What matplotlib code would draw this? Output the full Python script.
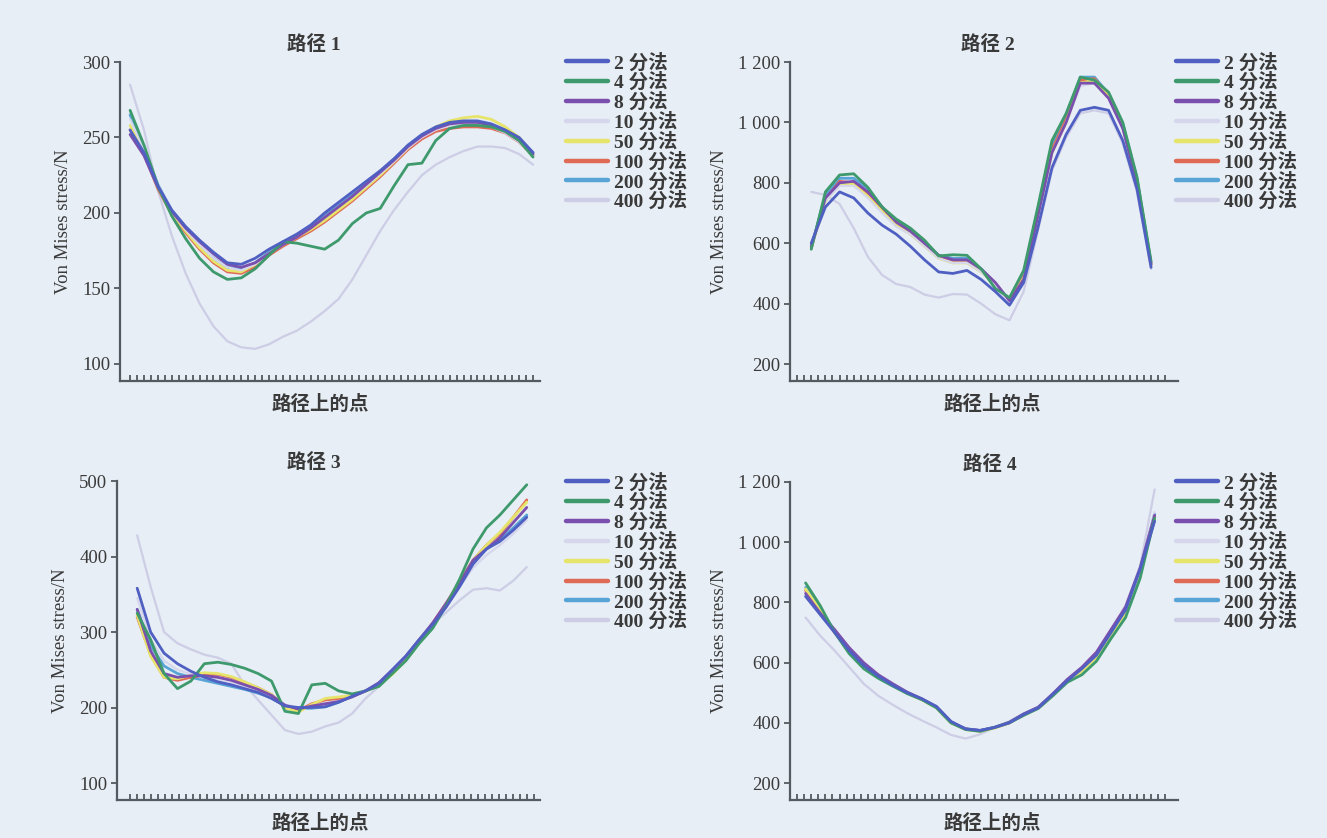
import numpy as np
import matplotlib
matplotlib.use("Agg")
import matplotlib.pyplot as plt
from matplotlib.ticker import FixedLocator, FuncFormatter

# ---- legend labels and colours -------------------------------------------
methods = ["2 分法", "4 分法", "8 分法", "10 分法", "50 分法", "100 分法", "200 分法", "400 分法"]
colors = ["#4f5fc2", "#3e9a6c", "#7b4fae", "#d6d6ec", "#e6e46a", "#df6a55", "#58a4d6", "#cdcde6"]

titles = ["路径 1", "路径 2", "路径 3", "路径 4"]
xlabel = "路径上的点"
ylabel = "Von Mises stress/N"

# ---- path 1 (30 points along the path) -----------------------------------
p1_n2 = [255, 240, 218, 202, 191, 182, 174, 167, 166, 170, 176, 181, 186, 192, 200,
         207, 214, 221, 228, 236, 245, 252, 257, 260, 261, 261, 259, 255, 250, 240]
p1_n4 = [268, 245, 218, 198, 183, 170, 161, 156, 157, 163, 172, 181, 180, 178, 176,
         182, 193, 200, 203, 218, 232, 233, 248, 256, 258, 258, 257, 254, 248, 237]
p1_n8 = [252, 238, 217, 201, 190, 181, 173, 166, 164, 167, 173, 179, 184, 190, 197,
         204, 211, 219, 227, 235, 244, 251, 256, 259, 260, 260, 258, 254, 248, 239]
p1_n10 = [262, 242, 219, 201, 189, 179, 170, 164, 162, 166, 173, 179, 184, 190, 197,
          204, 211, 218, 226, 234, 243, 250, 255, 258, 259, 259, 257, 253, 247, 238]
p1_n50 = [258, 240, 217, 200, 188, 177, 168, 162, 161, 166, 173, 179, 184, 189, 195,
          202, 209, 217, 225, 234, 243, 251, 257, 261, 263, 264, 262, 257, 250, 239]
p1_n100 = [255, 239, 216, 199, 187, 176, 167, 161, 160, 164, 172, 178, 183, 188, 194,
           201, 208, 216, 224, 233, 242, 249, 254, 256, 257, 257, 256, 253, 247, 238]
p1_n200 = [265, 243, 219, 201, 189, 178, 170, 164, 163, 167, 174, 180, 185, 191, 198,
           205, 212, 219, 227, 235, 244, 251, 256, 259, 260, 260, 258, 255, 249, 240]
p1_n400 = [285, 255, 215, 185, 160, 140, 125, 115, 111, 110, 113, 118, 122, 128, 135,
           143, 156, 172, 188, 202, 214, 225, 232, 237, 241, 244, 244, 243, 239, 232]

# ---- path 2 (25 points) ---------------------------------------------------
p2_n2 = [600, 720, 770, 750, 700, 660, 630, 590, 545, 505, 500, 510, 480, 440, 395,
         470, 650, 850, 960, 1040, 1050, 1040, 940, 780, 520]
p2_n4 = [580, 770, 826, 830, 785, 720, 680, 650, 610, 558, 562, 560, 515, 450, 420,
         510, 720, 940, 1030, 1150, 1140, 1100, 1000, 820, 540]
p2_n8 = [590, 750, 800, 805, 770, 720, 670, 640, 600, 560, 545, 545, 515, 470, 410,
         480, 690, 900, 1000, 1130, 1130, 1080, 980, 800, 530]
p2_n10 = [600, 740, 790, 790, 750, 700, 655, 630, 590, 550, 535, 535, 505, 460, 400,
          480, 690, 900, 1000, 1120, 1130, 1080, 980, 800, 530]
p2_n50 = [590, 740, 795, 795, 755, 705, 660, 630, 590, 550, 535, 535, 505, 465, 405,
          485, 690, 900, 1000, 1130, 1140, 1085, 985, 805, 530]
p2_n100 = [585, 745, 805, 800, 765, 715, 665, 640, 600, 555, 540, 540, 510, 465, 405,
           490, 700, 910, 1010, 1140, 1145, 1090, 990, 810, 530]
p2_n200 = [585, 760, 815, 815, 780, 720, 670, 645, 605, 560, 550, 550, 515, 465, 410,
           500, 710, 925, 1020, 1150, 1150, 1095, 995, 815, 535]
p2_n400 = [770, 760, 730, 650, 555, 495, 465, 455, 430, 420, 432, 430, 400, 365, 345,
           440, 640, 840, 950, 1030, 1040, 1030, 930, 770, 515]

# ---- path 3 (30 points) ---------------------------------------------------
p3_n2 = [358, 300, 272, 258, 248, 240, 234, 230, 225, 220, 212, 202, 200, 200, 201,
         207, 215, 222, 232, 250, 268, 290, 310, 333, 360, 390, 410, 420, 435, 452]
p3_n4 = [325, 290, 245, 225, 235, 258, 260, 257, 252, 245, 235, 195, 192, 230, 232,
         222, 218, 222, 228, 245, 262, 285, 305, 335, 370, 410, 438, 455, 475, 495]
p3_n8 = [330, 275, 245, 240, 242, 242, 240, 236, 230, 224, 216, 203, 198, 202, 205,
         208, 214, 222, 233, 250, 268, 290, 312, 338, 365, 395, 410, 425, 445, 465]
p3_n10 = [345, 290, 262, 250, 244, 240, 236, 232, 227, 221, 214, 204, 200, 200, 202,
          208, 215, 223, 233, 250, 269, 290, 311, 335, 360, 385, 402, 415, 430, 448]
p3_n50 = [322, 268, 240, 238, 243, 246, 245, 241, 234, 226, 217, 200, 194, 204, 212,
          214, 216, 222, 230, 244, 263, 286, 310, 336, 365, 395, 415, 432, 452, 472]
p3_n100 = [320, 270, 240, 236, 240, 243, 244, 240, 233, 226, 217, 200, 196, 205, 210,
           212, 215, 222, 230, 246, 265, 288, 312, 338, 367, 395, 415, 430, 452, 475]
p3_n200 = [330, 282, 255, 245, 240, 236, 232, 228, 224, 219, 213, 203, 199, 199, 201,
           207, 215, 222, 232, 249, 268, 290, 311, 336, 362, 392, 410, 422, 438, 455]
p3_n400 = [428, 360, 300, 285, 277, 270, 266, 258, 230, 210, 190, 170, 165, 168, 175,
           180, 192, 212, 228, 245, 268, 290, 310, 326, 342, 356, 358, 355, 368, 386]

# ---- path 4 (25 points) ---------------------------------------------------
p4_n2 = [820, 760, 700, 640, 590, 555, 525, 500, 480, 455, 405, 380, 375, 385, 400,
         428, 450, 495, 540, 580, 625, 700, 775, 910, 1070]
p4_n4 = [865, 790, 700, 630, 580, 548, 522, 497, 477, 450, 400, 378, 372, 385, 400,
         425, 448, 490, 535, 560, 605, 680, 750, 880, 1080]
p4_n8 = [830, 765, 710, 650, 600, 560, 530, 502, 480, 452, 402, 380, 375, 385, 402,
         430, 452, 497, 545, 585, 635, 710, 785, 915, 1090]
p4_n10 = [830, 760, 700, 640, 590, 553, 523, 498, 478, 452, 402, 380, 374, 385, 401,
          429, 451, 495, 540, 580, 625, 700, 775, 905, 1100]
p4_n50 = [845, 775, 702, 638, 588, 552, 524, 498, 477, 450, 400, 378, 372, 383, 400,
          427, 449, 493, 538, 572, 618, 690, 765, 895, 1080]
p4_n100 = [840, 770, 700, 640, 590, 555, 525, 500, 478, 452, 402, 380, 373, 384, 400,
           428, 450, 494, 540, 575, 620, 695, 770, 900, 1085]
p4_n200 = [850, 780, 705, 640, 590, 555, 525, 500, 479, 453, 403, 381, 375, 386, 402,
           430, 452, 496, 542, 582, 630, 705, 780, 910, 1095]
p4_n400 = [750, 690, 640, 585, 530, 490, 460, 432, 408, 385, 360, 348, 362, 385, 405,
           430, 455, 495, 540, 585, 630, 705, 790, 920, 1175]

path_series = [
    [p1_n2, p1_n4, p1_n8, p1_n10, p1_n50, p1_n100, p1_n200, p1_n400],
    [p2_n2, p2_n4, p2_n8, p2_n10, p2_n50, p2_n100, p2_n200, p2_n400],
    [p3_n2, p3_n4, p3_n8, p3_n10, p3_n50, p3_n100, p3_n200, p3_n400],
    [p4_n2, p4_n4, p4_n8, p4_n10, p4_n50, p4_n100, p4_n200, p4_n400],
]

yticks = [[100, 150, 200, 250, 300],
          [200, 400, 600, 800, 1000, 1200],
          [100, 200, 300, 400, 500],
          [200, 400, 600, 800, 1000, 1200]]

# ---- figure layout --------------------------------------------------------
W, H = 1327, 838
BG = "#e7eef5"
INK = "#3a3a3a"
AXC = "#555a60"
SERIF = "Liberation Serif"
CJK = ["Liberation Serif", "Noto Sans CJK SC"]

fig = plt.figure(figsize=(W / 100, H / 100), dpi=100, facecolor=BG)


def fig_rect(left, right, top, bottom):
    return [left / W, 1 - bottom / H, (right - left) / W, (bottom - top) / H]


# axes boxes in pixels: left, right, top (max y), bottom (x-axis line)
boxes = [(120, 540, 62, 381), (790, 1178, 62, 381),
         (117, 540, 481, 800), (790, 1178, 482, 800)]
ylims = [(88.7, 300), (144, 1200), (77.5, 500), (144, 1200)]
# tick layout along the path (tick marks only, no labels)
n_ticks = [59, 53, 59, 53]
xlims = [(-1.45, 59.0), (-1.0, 53.8), (-1.9, 58.9), (-1.0, 53.8)]
x_spans = [(0, 58), (2, 50), (1, 57), (1.2, 50.5)]
title_x = [0.462, 0.51, 0.466, 0.515]
xlabel_x = [0.476, 0.52, 0.48, 0.52]
legend_anchor = [(566, 53), (1176, 53), (566, 473), (1176, 473)]


def thousands(v, _):
    v = int(round(v))
    if v >= 1000:
        return f"{v // 1000} {v % 1000:03d}"
    return f"{v}"


for k in range(4):
    ax = fig.add_axes(fig_rect(*boxes[k]))
    ax.set_facecolor(BG)
    series = path_series[k]
    n = len(series[0])
    x = np.linspace(x_spans[k][0], x_spans[k][1], n)
    handles = [None] * len(methods)
    for j in reversed(range(len(methods))):
        lw = 1.6 if j in (3, 7) else 2.0
        (h,) = ax.plot(x, series[j], color=colors[j], lw=lw, solid_capstyle="round")
        handles[j] = h

    ax.set_xlim(*xlims[k])
    ax.set_ylim(*ylims[k])
    for s in ("top", "right"):
        ax.spines[s].set_visible(False)
    for s in ("left", "bottom"):
        ax.spines[s].set_color(AXC)
        ax.spines[s].set_linewidth(1.6)

    ax.xaxis.set_major_locator(FixedLocator(np.arange(n_ticks[k])))
    ax.tick_params(axis="x", direction="in", length=4.5, width=1.3, colors=AXC,
                   labelbottom=False)
    ax.yaxis.set_major_locator(FixedLocator(yticks[k]))
    ax.yaxis.set_major_formatter(FuncFormatter(thousands))
    ax.tick_params(axis="y", direction="out", length=4, width=1.3, colors=AXC,
                   labelcolor=INK, labelsize=13.5, pad=3)
    for lab in ax.get_yticklabels():
        lab.set_family(SERIF)

    ax.set_ylabel(ylabel, family=SERIF, fontsize=13.5, color=INK, labelpad=7)
    ax.set_xlabel(xlabel, family=CJK, fontsize=14, fontweight="bold", color=INK)
    ax.xaxis.set_label_coords(xlabel_x[k], -0.045)
    ax.set_title(titles[k], family=CJK, fontsize=14, fontweight="bold", color=INK,
                 pad=9, x=title_x[k])

    lx, ly = legend_anchor[k]
    leg = ax.legend(handles, methods, loc="upper left",
                    bbox_to_anchor=(lx / W, 1 - ly / H), bbox_transform=fig.transFigure,
                    frameon=False, borderpad=0, borderaxespad=0, handlelength=2.15,
                    handletextpad=0.3, labelspacing=0.03,
                    prop={"family": CJK, "size": 14, "weight": "bold"})
    for line in leg.get_lines():
        line.set_linewidth(3.2)
    for t in leg.get_texts():
        t.set_color(INK)

fig.savefig("out.png", dpi=100, facecolor=BG)
